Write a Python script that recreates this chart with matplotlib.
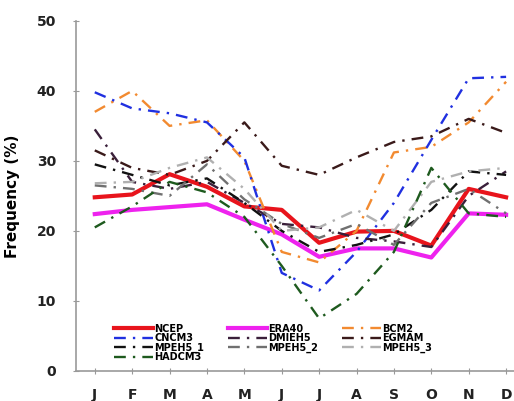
import matplotlib
matplotlib.use('Agg')
import matplotlib.pyplot as plt
import numpy as np

months = ['J', 'F', 'M', 'A', 'M', 'J', 'J', 'A', 'S', 'O', 'N', 'D']

ncep = [24.8, 25.2, 28.1, 26.3, 23.5, 23.0, 18.3, 19.9, 20.0, 17.9, 26.0, 24.8]
era40 = [22.4, 23.0, 23.4, 23.8, 21.6, 19.5, 16.3, 17.5, 17.5, 16.2, 22.5, 22.3]
bcm2 = [37.0, 40.0, 35.0, 35.8, 30.0, 17.0, 15.5, 20.0, 31.2, 32.0, 35.5, 41.3]
cncm3 = [39.8, 37.5, 36.8, 35.5, 30.5, 14.0, 11.5, 17.0, 24.0, 33.0, 41.8, 42.0]
dmieh5 = [34.5, 27.0, 26.0, 27.0, 24.0, 21.0, 20.5, 19.0, 18.5, 17.7, 25.0, 28.5]
egmam = [31.5, 29.0, 28.0, 30.0, 35.5, 29.3, 28.0, 30.5, 32.7, 33.5, 36.0, 34.0]
mpeh5_1 = [29.5, 28.0, 26.5, 27.5, 24.0, 20.0, 17.0, 18.0, 19.5, 23.0, 28.5, 28.0]
mpeh5_2 = [26.5, 26.0, 25.0, 29.5, 24.5, 21.0, 19.0, 21.0, 18.0, 24.0, 26.0, 22.5]
mpeh5_3 = [26.8, 27.0, 29.0, 30.5, 26.0, 20.0, 20.5, 23.0, 20.0, 27.0, 28.5, 29.0]
hadcm3 = [20.5, 23.5, 27.0, 25.5, 22.0, 15.0, 7.5, 11.0, 17.0, 29.0, 22.5, 22.0]

x = np.arange(1, 13)
dashdot = (0, (5, 3, 1, 3))
lw_d = 1.7

fig = plt.figure(figsize=(5.14, 4.01), dpi=100)
ax = fig.add_axes([0.148, 0.075, 0.873, 0.873])

h_ncep, = ax.plot(x, ncep, color='#e8141c', lw=3, label='NCEP')
h_era, = ax.plot(x, era40, color='#ee22ee', lw=3, label='ERA40')
h_bcm, = ax.plot(x, bcm2, color='#f28a30', lw=lw_d, ls=dashdot, label='BCM2')
h_cn, = ax.plot(x, cncm3, color='#2030e0', lw=lw_d, ls=dashdot, label='CNCM3')
h_dm, = ax.plot(x, dmieh5, color='#3a1f3a', lw=lw_d, ls=dashdot, label='DMIEH5')
h_eg, = ax.plot(x, egmam, color='#3a1a1a', lw=lw_d, ls=dashdot, label='EGMAM')
h_m1, = ax.plot(x, mpeh5_1, color='#111111', lw=lw_d, ls=dashdot, label='MPEH5_1')
h_m2, = ax.plot(x, mpeh5_2, color='#707070', lw=lw_d, ls=dashdot, label='MPEH5_2')
h_m3, = ax.plot(x, mpeh5_3, color='#b0b0b0', lw=lw_d, ls=dashdot, label='MPEH5_3')
h_had, = ax.plot(x, hadcm3, color='#1e5a1e', lw=lw_d, ls=dashdot, label='HADCM3')

# legend fills by column, so reorder to get the row layout
handles = [h_ncep, h_cn, h_m1, h_had, h_era, h_dm, h_m2, h_bcm, h_eg, h_m3]
ax.legend(handles=handles, ncol=3, loc='lower left', bbox_to_anchor=(0.07, 0.005),
          frameon=False, prop={'weight': 'bold', 'size': 7}, handlelength=4,
          handletextpad=0.1, columnspacing=2.5, labelspacing=-0.05, borderpad=0.2)

ax.set_xlim(0.5, 12.5)
ax.set_ylim(0, 50)
ax.set_xticks(x)
ax.set_xticklabels(months, fontweight='bold', fontsize=10)
ax.set_yticks(np.arange(0, 51, 10))
ax.set_yticklabels([str(v) for v in range(0, 51, 10)], fontweight='bold', fontsize=10)
ax.set_ylabel('Frequency (%)', fontweight='bold', fontsize=11, labelpad=12)

for s in ['top', 'right']:
    ax.spines[s].set_visible(False)
for s in ['left', 'bottom']:
    ax.spines[s].set_color('#999999')
    ax.spines[s].set_linewidth(1.2)
ax.tick_params(axis='both', colors='#999999', labelcolor='#222222', length=5, direction='inout')
ax.tick_params(axis='x', pad=10)
ax.tick_params(axis='y', pad=12)

plt.savefig('out.png', dpi=100)
plt.close()
